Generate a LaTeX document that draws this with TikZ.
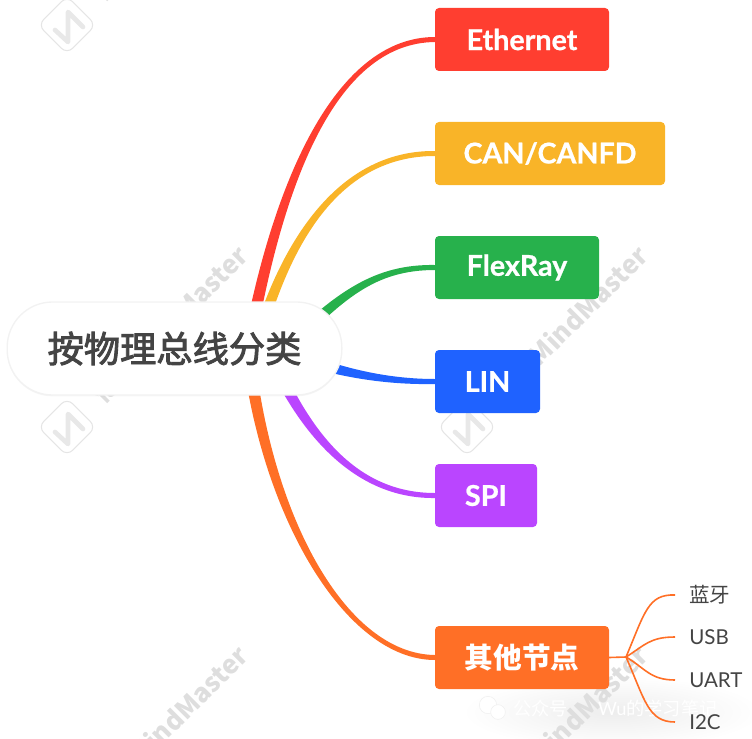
\documentclass[tikz,border=0pt]{standalone}
\usepackage{fontspec}
\setmainfont{Lato}[BoldFeatures={FakeBold=0.7}]
\newfontfamily\cjk{Noto Sans CJK SC}
\newfontfamily\cjkheavy[FakeBold=2.4]{Noto Sans CJK SC}
\usepackage{tikz}
\usetikzlibrary{positioning, calc, shadows}
% tapered branch: colour, target, start, control 1, control 2, half width at start
\newcommand{\limb}[6]{\fill[#1] (hub) -- ($(#3)+(#6)$) .. controls ($(#4)+0.8*(#6)$) and ($(#5)+(0,3)$) .. ($(#2)+(0,2.5)$) -- ($(#2)+(0,-2.5)$) .. controls ($(#5)+(0,-3)$) and ($(#4)-0.8*(#6)$) .. ($(#3)-(#6)$) -- cycle;}

\begin{document}
\begin{tikzpicture}[
  x=0.75pt, y=-0.75pt,
  topic/.style={rounded corners=3pt, minimum height=47.25pt, inner sep=0pt, outer sep=0pt, anchor=north west, align=center, text=white, font=\fontsize{21.5}{24}\selectfont\bfseries},
  leaf/.style={anchor=west, inner sep=0pt, text=inktext, font=\fontsize{15.4}{18}\selectfont},
  twig/.style={line width=1.2pt, orange1},
  mark1/.style={rotate=45, text=black!13, font=\fontsize{19.5}{22}\selectfont\cjk\bfseries, anchor=west, inner sep=0pt},
  logo/.style={draw=black!10, line width=0.8pt, rounded corners=6pt, rotate=45, minimum size=30.7pt, inner sep=0pt},
  stamp/.style={text=white, inner sep=0pt, font=\fontsize{13.7}{16}\selectfont\cjk},
  bubble/.style={circle, fill=white, draw=black!6, inner sep=0pt},
  node distance=38.25pt
]
\definecolor{inktext}{HTML}{444444}
\definecolor{red1}{HTML}{FF3E30}
\definecolor{yellow1}{HTML}{F9B428}
\definecolor{green1}{HTML}{27B14C}
\definecolor{blue1}{HTML}{1F62FF}
\definecolor{purple1}{HTML}{BA45FF}
\definecolor{orange1}{HTML}{FF6F26}
\useasboundingbox (0,0) rectangle (752,738);
\clip (0,0) rectangle (752,738);
% account stamp
\shade[inner color=black!7, outer color=white] (612,712) ellipse (150 and 36);
% watermarks
\foreach \wx/\wy in {67/25, 67/427, 467/427, 67/827, 467/827} {
  \node[logo] (wm\wx\wy) at (\wx,\wy) {};
  \draw[black!9, line width=3.5pt, line cap=round, line join=round] (\wx-12,\wy+5) -- (\wx+1,\wy+17) -- (\wx+1,\wy-13) -- (\wx+16,\wy+2);
  \node[mark1] (wt\wx\wy) at (\wx+29,\wy-29) {亿图MindMaster};
}
\node[bubble, minimum size=13pt] (chat1) at (488,705) {};
\node[bubble, minimum size=11pt] (chat2) at (498,712) {};
\node[stamp, anchor=west] (acct1) at (513,708) {公众号};
\node[stamp, anchor=east] (acct2) at (718,708) {\rmfamily Wu\cjk 的学习笔记};
% topics
\node[topic, fill=red1, minimum width=130.5pt] (eth) at (435,8) {Ethernet};
\node[topic, fill=yellow1, minimum width=172.5pt, below=of eth.south west, anchor=north west] (can) {CAN/CANFD};
\node[topic, fill=green1, minimum width=123pt, below=of can.south west, anchor=north west] (flex) {FlexRay};
\node[topic, fill=blue1, minimum width=78.75pt, below=of flex.south west, anchor=north west] (lin) {LIN};
\node[topic, fill=purple1, minimum width=76.5pt, below=of lin.south west, anchor=north west] (spi) {SPI};
\node[topic, fill=orange1, minimum width=130.5pt, below=74.25pt of spi.south west, anchor=north west, font=\fontsize{21.5}{24}\selectfont\cjk\bfseries] (other) {其他节点};
% sub items
\node[leaf] (bt) at (689,595) {\cjk 蓝牙};
\node[leaf] (usb) at (689,637) {USB};
\node[leaf] (uart) at (689,680) {UART};
\node[leaf] (iic) at (689,722) {I2C};
\coordinate (fork) at (626,657);
\coordinate (hub) at (250,350);
% branches
\limb{red1}{eth.west}{248,350}{280,170}{340,40}{6,1}
\limb{yellow1}{can.west}{255,350}{285,240}{340,153}{5.5,2}
\limb{green1}{flex.west}{285,350}{340,295}{375,267}{4,4.5}
\limb{blue1}{lin.west}{300,358}{340,372}{385,382}{-1,6}
\limb{purple1}{spi.west}{275,365}{310,440}{360,496}{-5,3}
\limb{orange1}{other.west}{248,350}{266,515}{345,657}{-6,1}
\draw[twig] (other.east) -- (fork);
\draw[twig] (fork) .. controls (645,612) and (648,594) .. ($(bt.west)+(-14,0)$);
\draw[twig] (fork) .. controls (645,645) and (650,637) .. ($(usb.west)+(-14,0)$);
\draw[twig] (fork) .. controls (645,668) and (650,680) .. ($(uart.west)+(-14,0)$);
\draw[twig] (fork) .. controls (645,700) and (648,722) .. ($(iic.west)+(-14,0)$);
% root
\node[fill=white, draw=black!5, line width=1pt, rounded corners=34pt, minimum width=251pt, minimum height=69.75pt, inner sep=0pt, text=inktext, font=\fontsize{27.2}{30}\selectfont\cjkheavy, drop shadow={shadow xshift=0pt, shadow yshift=-1pt, opacity=0.08}] (root) at (174.5,348.5) {按物理总线分类};
\end{tikzpicture}
\end{document}
